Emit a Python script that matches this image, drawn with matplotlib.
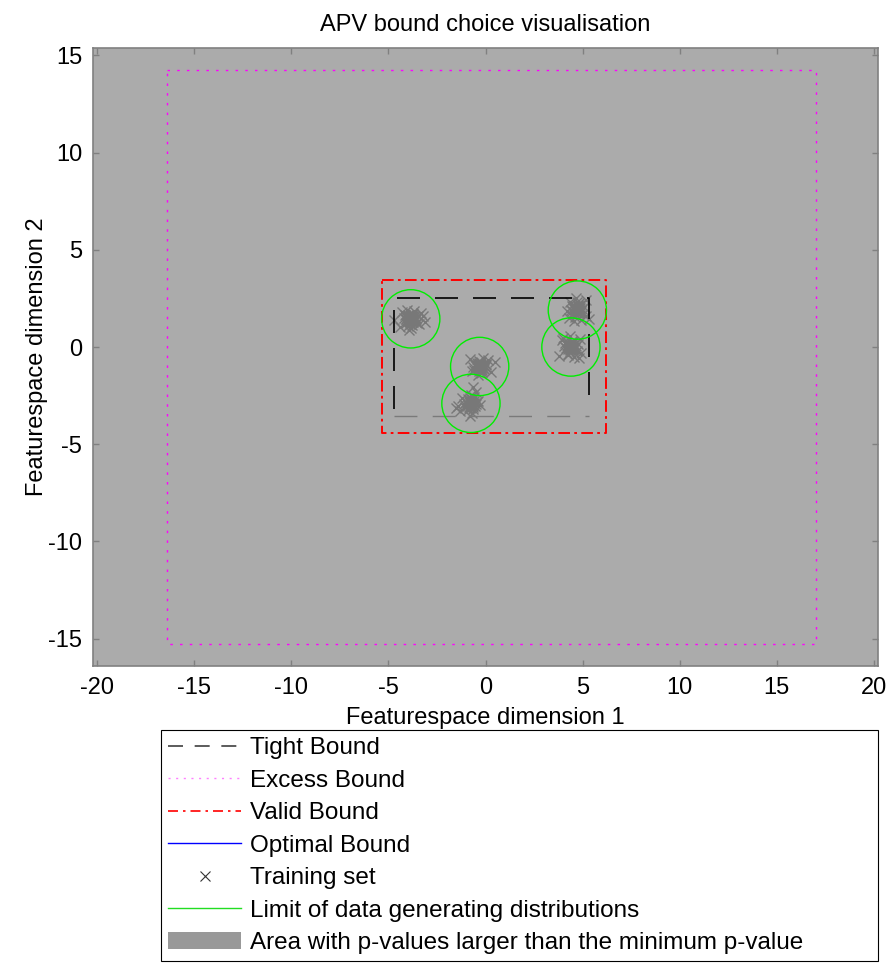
import matplotlib
matplotlib.use("Agg")
import matplotlib.pyplot as plt
from matplotlib.lines import Line2D
from matplotlib.patches import Patch, Circle

plt.rcParams['font.family'] = ['Liberation Sans', 'DejaVu Sans']
plt.rcParams['axes.unicode_minus'] = False

# axis range of the plot
x_range = [-20.2, 20.2]
y_range = [-16.4, 15.4]
x_ticks = [-20, -15, -10, -5, 0, 5, 10, 15, 20]
y_ticks = [-15, -10, -5, 0, 5, 10, 15]

# bounds as [xmin, xmax, ymin, ymax]
tight_bound = [-4.71, 5.32, -3.53, 2.54]
excess_bound = [-16.39, 17.01, -15.26, 14.23]
valid_bound = [-5.33, 6.22, -4.40, 3.43]

# data generating distributions: centres and limit radius
dist_x = [-3.85, -0.30, -0.75, 4.73, 4.40]
dist_y = [1.45, -1.00, -2.90, 1.90, 0.00]
dist_radius = 1.5

# training set, one pair of lists per cluster
train_x1 = [-3.85, -3.70, -4.00, -3.95, -3.75, -3.60, -4.10, -3.80, -3.90, -4.05,
            -3.65, -3.50, -4.20, -3.88, -3.72, -3.98, -4.15, -3.55, -3.82, -4.70,
            -3.10, -3.30, -4.40, -3.92, -3.68, -4.02, -3.78, -3.40, -4.30, -3.86,
            -3.62, -4.08, -3.74, -3.96, -3.20, -3.84, -3.79, -3.91, -3.87, -3.81,
            -3.93, -3.77, -3.89, -3.83, -4.12, -3.58, -3.71, -3.99, -3.66, -4.04,
            -3.86, -3.76, -3.94, -3.69, -4.01]
train_y1 = [1.45, 1.55, 1.35, 1.60, 1.30, 1.50, 1.42, 1.70, 1.20, 1.55,
            1.38, 1.62, 1.48, 1.28, 1.72, 1.10, 1.65, 1.25, 1.52, 1.40,
            1.30, 1.75, 1.05, 0.90, 1.85, 1.90, 1.15, 1.20, 1.80, 1.00,
            1.35, 1.25, 1.60, 1.48, 1.60, 1.47, 1.40, 1.52, 1.37, 1.58,
            1.43, 1.49, 1.33, 1.62, 1.45, 1.44, 1.36, 1.57, 1.46, 1.32,
            1.66, 1.27, 1.41, 1.54, 1.63]
train_x2 = [-0.30, -0.15, -0.45, -0.40, -0.20, -0.05, -0.55, -0.25, -0.35, -0.50,
            -0.10, 0.05, -0.65, -0.33, -0.18, -0.42, -0.60, 0.00, -0.28, 0.48,
            0.30, -0.80, -0.38, -0.12, -0.48, -0.22, 0.15, -0.70, -0.32, -0.26,
            -0.29, -0.34, -0.24, -0.36, -0.27, -0.31, -0.21, -0.39, -0.30, -0.19,
            -0.41, -0.25, -0.35, -0.14, -0.46, -0.28, -0.33, -0.23, -0.37, -0.31]
train_y2 = [-1.00, -0.90, -1.10, -0.85, -1.20, -1.05, -0.95, -0.75, -1.25, -1.00,
            -1.15, -0.88, -1.05, -0.70, -1.30, -0.80, -1.20, -0.95, -1.08, -0.77,
            -1.30, -0.60, -1.45, -0.55, -0.90, -1.35, -0.65, -1.25, -1.02, -0.92,
            -0.98, -1.04, -0.94, -1.07, -0.89, -1.12, -1.01, -0.96, -0.86, -0.99,
            -1.03, -1.14, -0.91, -1.06, -0.93, -1.17, -0.83, -1.09, -0.97, -1.11]
train_x3 = [-0.75, -0.60, -0.90, -0.85, -0.65, -0.50, -1.00, -0.70, -0.80, -0.95,
            -0.55, -0.40, -1.10, -0.78, -0.62, -0.88, -1.05, -0.45, -0.72, -1.53,
            -0.64, -0.50, -1.30, -0.82, -0.58, -0.92, -0.68, -0.30, -1.20, -0.76,
            -0.70, -1.40, -0.74, -0.79, -0.69, -0.81, -0.72, -0.77, -0.66, -0.84,
            -0.75, -0.63, -0.87, -0.71, -0.80, -0.59, -0.91, -0.73, -0.78, -0.67]
train_y3 = [-2.90, -2.80, -3.00, -2.75, -3.10, -2.95, -2.85, -2.65, -3.15, -2.90,
            -3.05, -2.78, -2.95, -2.60, -3.20, -2.70, -3.10, -2.85, -2.98, -3.15,
            -2.06, -2.30, -3.30, -3.53, -2.55, -3.25, -3.40, -3.00, -2.60, -2.45,
            -2.80, -3.05, -2.92, -2.87, -2.97, -2.84, -3.02, -2.83, -2.94, -3.07,
            -2.89, -2.99, -2.81, -2.93, -3.09, -2.86, -2.96, -2.76, -3.01, -2.91]
train_x4 = [4.73, 4.88, 4.58, 4.63, 4.83, 4.98, 4.48, 4.78, 4.68, 4.53,
            4.93, 5.08, 4.38, 4.70, 4.86, 4.60, 4.43, 5.03, 4.76, 5.32,
            4.20, 5.20, 4.35, 4.66, 4.90, 4.56, 4.80, 5.15, 4.28, 4.72,
            4.71, 4.76, 4.66, 4.79, 4.69, 4.81, 4.64, 4.74, 4.84, 4.61,
            4.77, 4.67, 4.73, 4.86, 4.59, 4.75, 4.70, 4.82, 4.65, 4.78]
train_y4 = [1.90, 2.00, 1.80, 2.05, 1.75, 1.95, 1.87, 2.15, 1.65, 2.00,
            1.83, 2.07, 1.93, 1.73, 2.17, 1.55, 2.10, 1.70, 1.97, 1.45,
            1.85, 2.40, 2.30, 2.54, 1.40, 1.35, 2.25, 1.60, 1.50, 2.30,
            1.92, 1.86, 1.96, 1.82, 2.02, 1.89, 1.94, 1.79, 1.99, 1.88,
            2.04, 1.84, 1.91, 1.78, 1.98, 2.09, 1.81, 1.95, 2.03, 1.87]
train_x5 = [4.40, 4.55, 4.25, 4.30, 4.50, 4.65, 4.15, 4.45, 4.35, 4.20,
            4.60, 4.75, 4.05, 4.37, 4.53, 4.27, 4.10, 4.70, 4.43, 3.80,
            4.90, 3.95, 4.85, 4.33, 4.57, 4.23, 4.47, 4.80, 4.00, 4.39,
            4.38, 4.43, 4.33, 4.46, 4.36, 4.48, 4.31, 4.41, 4.51, 4.28,
            4.44, 4.34, 4.40, 4.53, 4.26, 4.42, 4.37, 4.49, 4.32, 4.45]
train_y5 = [0.00, 0.10, -0.10, 0.15, -0.15, 0.05, -0.03, 0.25, -0.25, 0.10,
            -0.07, 0.17, 0.03, -0.17, 0.27, -0.35, 0.20, -0.20, 0.07, -0.45,
            -0.30, 0.35, 0.40, 0.55, -0.50, -0.40, 0.30, -0.55, 0.45, -0.05,
            0.02, -0.04, 0.06, -0.08, 0.12, -0.01, 0.04, -0.11, 0.09, -0.02,
            0.14, -0.06, 0.01, -0.12, 0.08, 0.19, -0.09, 0.05, 0.13, -0.03]
train_clusters = [(train_x1, train_y1), (train_x2, train_y2), (train_x3, train_y3),
                  (train_x4, train_y4), (train_x5, train_y5)]

legend_labels = ['Tight Bound', 'Excess Bound', 'Valid Bound', 'Optimal Bound',
                 'Training set', 'Limit of data generating distributions',
                 'Area with p-values larger than the minimum p-value']


def rect_xy(b):
    xs = [b[0], b[1], b[1], b[0], b[0]]
    ys = [b[3], b[3], b[2], b[2], b[3]]
    return xs, ys


fig = plt.figure(figsize=(8.91, 9.64), dpi=100)
ax = fig.add_axes([0.1047, 0.3094, 0.8804, 0.6411])

# area with large p-values covers the whole feature space shown
ax.fill([x_range[0], x_range[1], x_range[1], x_range[0]],
        [y_range[0], y_range[0], y_range[1], y_range[1]],
        color='#ababab', lw=0, zorder=0)

for tx, ty in train_clusters:
    ax.plot(tx, ty, 'x', color='#787878', ms=7.5, mew=1.0, zorder=2)

# tight bound: black dashes, bottom edge rendered lighter
tb = tight_bound
ax.plot([tb[0], tb[0], tb[1], tb[1]], [tb[2] + 0.35, tb[3], tb[3], tb[2] + 0.35],
        color='black', lw=1.2, dashes=(13.8, 9), zorder=3)
ax.plot([tb[0], tb[1]], [tb[2], tb[2]], color='#7a7a7a', lw=1.0, dashes=(16.5, 11),
        zorder=3)

ex, ey = rect_xy(excess_bound)
ax.plot(ex, ey, color='#ff00ff', lw=1.0, dashes=(1.8, 5.2), zorder=3)

vx, vy = rect_xy(valid_bound)
ax.plot(vx, vy, color='#ff0000', lw=1.4, dashes=(6, 2.2, 1.4, 2.2), zorder=3)

for cx, cy in zip(dist_x, dist_y):
    ax.add_patch(Circle((cx, cy), dist_radius, fill=False, ec='#00ee00', lw=1.0,
                        zorder=4))

ax.set_xlim(x_range)
ax.set_ylim(y_range)
ax.set_xticks(x_ticks)
ax.set_yticks(y_ticks)
ax.tick_params(direction='in', length=4.5, width=1.0, color='#808080',
               labelsize=17, top=True, right=True, pad=8)
for sp in ax.spines.values():
    sp.set_color('#808080')
    sp.set_linewidth(1.2)

ax.set_title('APV bound choice visualisation', fontsize=17, pad=12)
ax.set_xlabel('Featurespace dimension 1', fontsize=17, labelpad=6)
ax.set_ylabel('Featurespace dimension 2', fontsize=17, labelpad=0)

handles = [
    Line2D([], [], color='#404040', lw=1.2, dashes=(9, 7)),
    Line2D([], [], color='#ff80ff', lw=1.0, dashes=(1.5, 4)),
    Line2D([], [], color='#ff0000', lw=1.2, dashes=(6, 3, 1.5, 3)),
    Line2D([], [], color='#0000ff', lw=1.0),
    Line2D([], [], ls='none', marker='x', color='#333333', ms=7, mew=0.8),
    Line2D([], [], color='#22dd22', lw=1.0),
    Patch(facecolor='#999999', edgecolor='none'),
]
leg = fig.legend(handles, legend_labels, loc='upper left',
                 bbox_to_anchor=(0.1807, 0.0015, 0.8047, 0.2412), mode='expand',
                 borderaxespad=0, fontsize=17.5,
                 handlelength=3.0, handletextpad=0.35, labelspacing=0.43,
                 borderpad=0.3, fancybox=False, framealpha=1)
leg.get_frame().set_edgecolor('black')
leg.get_frame().set_linewidth(0.8)

fig.savefig('out.png', dpi=100)
